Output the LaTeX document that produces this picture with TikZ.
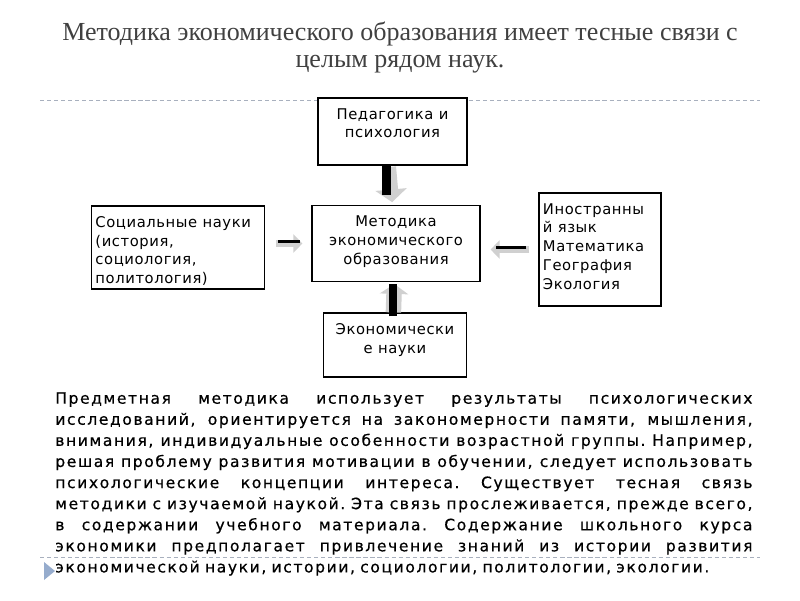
\documentclass[tikz,border=0pt]{standalone}
\usepackage{fontspec}
\setmainfont{DejaVu Sans}
\newfontfamily\titlefont{Liberation Serif}
\newfontfamily\boxfont[LetterSpace=4]{DejaVu Sans}
\newfontfamily\parafont[LetterSpace=10,FakeBold=0.5]{DejaVu Sans}
\usetikzlibrary{arrows.meta}
\usetikzlibrary{positioning}
\tikzset{>=latex}

\definecolor{titlegray}{RGB}{64,64,64}
\definecolor{rulegray}{RGB}{168,176,190}
\definecolor{arrowgray}{RGB}{208,208,208}
\definecolor{bulletblue}{RGB}{150,172,205}

\newcommand{\parline}[1]{\makebox[17.425cm][s]{\spaceskip=0.3em plus 1fil minus 0.1em\xspaceskip=\spaceskip #1}}

\tikzset{
  box/.style={draw=black, line width=0.8pt, fill=white, inner sep=0pt},
  boxtext/.style={inner sep=0pt, font=\boxfont\fontsize{10.5}{13.4}\selectfont},
  sepline/.style={rulegray, line width=0.6pt, dash pattern=on 3pt off 2pt},
  fatarrow/.style={arrowgray, line width=10pt, -{Triangle[length=9pt,width=22pt]}},
  thinarrow/.style={arrowgray, line width=5.5pt, -{Triangle[length=6.5pt,width=13pt]}},
  shaft/.style={black, line width=6.5pt},
  thinshaft/.style={black, line width=1.8pt}
}

\begin{document}
\begin{tikzpicture}[x=0.025cm, y=-0.025cm]
    \useasboundingbox (0,0) rectangle (800,600);

    % Title
    \node[font=\titlefont\fontsize{18.5}{19.3}\selectfont, text=titlegray, align=center] (title) at (400,47.5)
        {Методика экономического образования имеет тесные связи с\\целым рядом наук.};

    % Separator lines
    \coordinate (topL) at (40,100);
    \coordinate (topR) at (760,100);
    \coordinate (botL) at (40,557);
    \coordinate (botR) at (760,557);
    \draw[sepline] (topL) -- (topR);
    \draw[sepline] (botL) -- (botR);

    % Boxes
    \node[box, minimum width=3.725cm, minimum height=1.675cm] (ped) at (392.5,131.5) {};
    \node[box, minimum width=4.2cm, minimum height=1.9cm] (met) at (396,243.5) {};
    \node[box, minimum width=4.325cm, minimum height=2.075cm] (soc) at (178,247.5) {};
    \node[box, minimum width=3.05cm, minimum height=2.825cm] (lang) at (600,249.5) {};
    \node[box, minimum width=3.575cm, minimum height=1.6cm] (eco) at (395,345) {};

    % Box texts
    \node[boxtext, align=center, below=7.5pt of ped.north] (pedtext) {Педагогика и\\психология};
    \node[boxtext, align=center, below=7.5pt of met.north] (mettext) {Методика\\экономического\\образования};
    \node[boxtext, align=left, below right=7.5pt and 3pt of soc.north west] (soctext)
        {Социальные науки\\(история,\\социология,\\политология)};
    \node[boxtext, align=left, below right=7.5pt and 3pt of lang.north west] (langtext)
        {Иностранны\\й язык\\Математика\\География\\Экология};
    \node[boxtext, align=center, below=7.5pt of eco.north] (ecotext) {Экономически\\е науки};

    % Arrows into the centre box
    \draw[fatarrow, shorten <=1pt, shorten >=2pt] ([xshift=-0.09cm]ped.south) -- ([xshift=-0.09cm]met.north);
    \draw[shaft] ([xshift=-0.14cm]ped.south) -- ++(0,29);

    \draw[fatarrow, line width=11pt, -{Triangle[length=7pt,width=20pt]}, shorten >=1.4pt] ([xshift=-0.04cm]eco.north) -- ([xshift=-0.04cm]met.south);
    \draw[shaft, line width=5.7pt] ([xshift=-0.06cm]eco.north) ++(0,4) -- ++(0,-32);

    \draw[thinarrow, shorten <=7.8pt, shorten >=6.4pt] (soc.east |- met.west) -- (met.west);
    \draw[thinshaft] ([shift={(13,-2)}]soc.east |- met.west) -- ++(22,0);

    \draw[thinarrow, shorten <=6.4pt, shorten >=7.1pt] (lang.west) -- (met.east |- lang.west);
    \draw[thinshaft] ([shift={(-12,-2)}]lang.west) -- ++(-30,0);

    % Paragraph
    \node[anchor=north west, inner sep=0pt, align=left, text width=17.425cm,
          font=\parafont\fontsize{11.1}{15}\selectfont] (para) at (55,392)
        {\parline{Предметная методика использует результаты психологических}\\
         \parline{исследований, ориентируется на закономерности памяти, мышления,}\\
         \parline{внимания, индивидуальные особенности возрастной группы. Например,}\\
         \parline{решая проблему развития мотивации в обучении, следует использовать}\\
         \parline{психологические концепции интереса. Существует тесная связь}\\
         \parline{методики с изучаемой наукой. Эта связь прослеживается, прежде всего,}\\
         \parline{в содержании учебного материала. Содержание школьного курса}\\
         \parline{экономики предполагает привлечение знаний из истории развития}\\
         экономической науки, истории, социологии, политологии, экологии.};

    % Bullet
    \fill[bulletblue] (44,562) -- (55,571) -- (44,580) -- cycle;
\end{tikzpicture}
\end{document}
